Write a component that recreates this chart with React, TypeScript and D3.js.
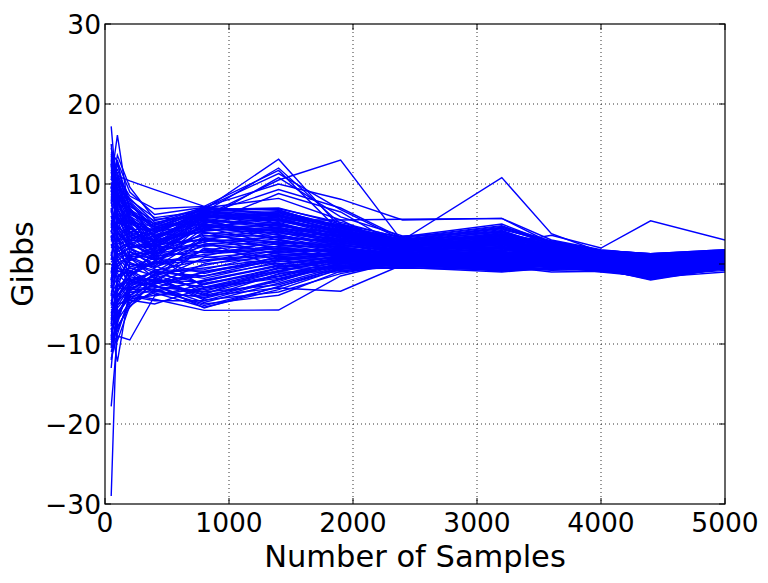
import React from "react";
import * as d3 from "d3";

// sample sizes shared by every run
const samples = [50, 100, 200, 400, 800, 1400, 1900, 2400, 3200, 3600, 4000, 4400, 5000];

// one row per run, Gibbs estimate at each sample size
const runs: number[][] = [
  [17.2, 8.0, 3.5, 2.0, 6.8, 13.1, 4.5, 2.0, 1.5, 1.2, 0.8, 0.5, 0.9],
  [10.5, 16.1, 6.0, 1.0, 6.5, 12.0, 5.0, 2.5, 2.0, 1.5, 1.0, 0.6, 1.2],
  [14.5, 11.0, 8.5, 6.9, 7.2, 11.7, 4.0, 2.2, 3.0, 1.8, 1.2, 0.4, 0.8],
  [9.0, 12.5, 7.0, 3.5, 7.0, 11.3, 6.8, 3.0, 4.5, 2.5, 1.5, 0.8, 1.4],
  [6.5, 8.0, 4.5, 2.0, 5.5, 10.8, 5.9, 3.5, 4.0, 2.0, 1.0, 0.2, 0.6],
  [12.0, 11.0, 5.5, 4.0, 6.0, 10.5, 13.0, 2.8, 2.0, 1.0, 0.5, -0.2, 0.3],
  [3.0, 5.0, 6.5, 5.0, 7.1, 10.0, 8.1, 5.5, 5.7, 3.0, 1.8, 1.2, 1.6],
  [13.0, 9.0, 2.0, 3.0, 6.2, 9.3, 7.0, 3.2, 2.5, 1.6, 1.1, 0.9, 1.3],
  [7.5, 10.5, 5.0, 1.5, 5.0, 8.8, 6.5, 2.0, 3.5, 2.2, 1.3, 0.7, 1.0],
  [15.0, 6.0, 3.0, 4.5, 7.0, 8.2, 5.5, 1.8, 2.8, 1.4, 0.9, 0.3, 0.7],
  [8.0, 11.0, 10.4, 9.3, 7.2, 6.0, 4.8, 2.4, 2.6, 1.7, 1.0, 0.6, 1.1],
  [4.0, 7.0, 3.0, 2.5, 4.5, 6.0, 4.2, 3.0, 10.8, 3.8, 1.5, 0.9, 1.2],
  [-2.0, 3.0, 2.0, 0.5, 3.0, 4.5, 3.5, 2.0, 2.5, 3.6, 2.0, 5.4, 3.0],
  [5.0, 4.0, 1.0, 2.0, 5.8, 5.5, 5.5, 5.6, 5.7, 2.6, 1.7, 1.3, 1.8],
  [11.5, 7.0, 4.0, 3.0, 6.8, 7.0, 5.0, 3.3, 4.8, 2.4, 1.4, 1.0, 1.5],
  [10.0, 9.5, 6.0, 2.5, 6.5, 6.5, 4.6, 2.6, 4.2, 2.0, 1.2, 0.7, 1.2],
  [8.5, 6.5, 3.5, 1.0, 6.0, 6.2, 4.0, 2.3, 3.8, 1.9, 1.0, 0.5, 1.0],
  [6.0, 4.5, 2.5, 3.5, 5.8, 5.8, 3.8, 2.0, 3.2, 1.7, 0.8, 0.3, 0.8],
  [4.5, 9.0, 5.5, 2.0, 5.2, 5.5, 3.5, 1.8, 2.9, 1.5, 0.7, 0.1, 0.6],
  [2.0, 3.0, 4.0, 1.5, 4.8, 5.2, 3.2, 1.5, 2.6, 1.3, 0.6, 0.0, 0.5],
  [0.5, 5.5, 1.5, 0.0, 4.5, 4.9, 3.0, 1.3, 2.2, 1.1, 0.4, -0.2, 0.4],
  [-1.0, 2.5, 3.0, 2.8, 4.2, 4.6, 2.8, 1.1, 2.0, 1.0, 0.3, -0.3, 0.3],
  [7.0, 1.0, -1.0, 1.2, 3.8, 4.3, 2.5, 1.0, 1.8, 0.9, 0.2, -0.4, 0.2],
  [-3.0, 4.0, 2.0, -0.5, 3.5, 4.0, 2.2, 0.9, 1.6, 0.8, 0.1, -0.5, 0.1],
  [1.5, -2.0, 0.5, 1.8, 3.2, 3.7, 2.0, 0.8, 1.4, 0.7, 0.0, -0.6, 0.0],
  [-5.0, 0.0, 1.0, 0.8, 2.8, 3.4, 1.8, 0.7, 1.2, 0.6, -0.1, -0.7, -0.1],
  [5.5, 3.5, -2.0, -1.0, 2.5, 3.1, 1.6, 0.6, 1.0, 0.5, -0.2, -0.8, -0.2],
  [-7.0, -3.0, 1.5, 0.5, 2.2, 2.8, 1.4, 0.5, 0.8, 0.4, -0.3, -0.9, -0.3],
  [3.5, -1.0, -0.5, -1.5, 1.8, 2.5, 1.2, 0.4, 0.6, 0.3, -0.4, -1.0, 0.0],
  [-2.5, 1.5, 2.5, 1.0, 1.5, 2.2, 1.0, 0.3, 0.4, 0.2, -0.5, -1.1, -0.2],
  [-9.0, -4.0, -1.5, 0.2, 1.2, 1.9, 0.8, 0.2, 0.2, 0.1, -0.6, -1.2, -0.3],
  [2.5, 0.5, -3.0, -2.0, 0.8, 1.6, 0.6, 0.1, 0.0, 0.0, -0.7, -1.3, -0.4],
  [-6.0, -5.0, 0.0, -0.8, 0.5, 1.3, 0.4, 0.0, -0.2, -0.1, -0.8, -1.4, -0.5],
  [-12.0, -7.0, -2.5, -2.5, 0.0, 1.0, 0.2, -0.1, -0.4, -0.2, -0.9, -1.5, -0.6],
  [-4.5, -6.0, -4.0, -1.2, -0.5, 0.7, 0.0, -0.2, -0.6, -0.3, -1.0, -1.6, -0.4],
  [-8.0, -12.2, -3.0, -3.0, -1.0, 0.4, -0.2, -0.3, -0.8, -0.4, -0.8, -1.8, -0.3],
  [-10.0, -8.0, -5.0, -2.2, -1.5, 0.1, -0.4, -0.4, -1.0, -0.5, -0.6, -2.0, -0.5],
  [-13.0, -4.5, -3.5, -3.5, -2.0, -0.2, -0.6, -0.5, -0.7, -0.6, -0.5, -1.7, -1.0],
  [-17.8, -9.0, -9.5, -4.0, -2.5, -0.5, -0.8, -0.3, -0.5, -0.8, -0.7, -1.5, -0.8],
  [-29.0, -5.0, -4.5, -5.0, -3.0, -1.0, -1.0, -0.2, -0.3, -1.0, -0.9, -1.3, -0.6],
  [-11.0, -7.5, -2.0, -2.8, -3.5, -2.6, -0.5, 0.0, -0.1, -0.7, -0.4, -1.2, -0.4],
  [-6.5, -3.5, -1.0, -3.8, -4.0, -3.0, -3.4, -0.1, 0.1, -0.4, -0.3, -1.1, -0.2],
  [-3.5, -2.5, -4.5, -1.8, -4.5, -3.5, -1.2, 0.2, 0.3, -0.2, -0.2, -0.9, 0.0],
  [-8.5, -6.5, -3.2, -3.2, -5.0, -3.9, -0.9, 0.1, -0.2, -0.3, -0.5, -1.0, 0.1],
  [-5.5, -4.0, -2.2, -2.6, -5.5, -2.8, -0.7, 0.3, 0.5, 0.0, -0.3, -0.8, 0.2],
  [-10.5, -2.0, -3.8, -4.4, -5.8, -5.75, -1.5, 0.4, 0.7, 0.1, -0.1, -0.6, 0.3],
  [13.5, 10.0, 7.5, 4.2, 6.9, 6.8, 4.4, 3.4, 5.0, 2.6, 1.5, 1.1, 1.7],
  [9.5, 13.0, 5.0, 3.8, 6.6, 6.0, 4.9, 2.9, 4.0, 2.1, 1.3, 0.8, 1.3],
  [4.0, 7.5, 7.0, 3.2, 6.3, 5.6, 3.9, 2.7, 3.5, 1.9, 1.1, 0.6, 1.1],
  [1.0, 6.0, 3.8, 2.2, 6.1, 5.0, 3.3, 2.1, 3.0, 1.6, 0.9, 0.4, 0.9],
  [-2.0, 1.8, 2.8, 0.6, 5.6, 4.4, 2.7, 1.7, 2.4, 1.2, 0.5, -0.1, 0.6],
  [6.0, 3.2, 0.0, -0.3, 5.3, 3.6, 2.4, 1.4, 1.9, 1.0, 0.3, -0.3, 0.4],
  [-4.0, 0.8, 1.2, 1.4, 4.9, 3.0, 2.1, 1.2, 1.5, 0.8, 0.2, -0.4, 0.5],
  [12.5, 4.2, 2.2, 2.6, 4.6, 2.4, 1.9, 1.0, 1.1, 0.6, 0.1, -0.5, 0.2],
  [-1.5, -0.5, -1.2, 0.3, 4.0, 1.8, 1.5, 0.9, 0.7, 0.4, 0.0, -0.7, 0.1],
  [8.0, 2.2, 0.8, -1.8, 3.3, 1.2, 1.1, 0.6, 0.3, 0.2, -0.2, -0.9, 0.0],
  [-7.5, -1.5, -0.8, -2.4, 2.0, 0.6, 0.7, 0.5, -0.1, 0.1, -0.4, -1.1, 0.2],
  [3.8, 6.8, 4.8, 1.6, 2.7, -0.3, 0.3, 0.3, -0.5, -0.1, -0.6, -1.4, -0.1],
  [0.0, -1.2, -2.8, -1.4, -3.2, -1.6, 0.1, 0.2, -0.8, -0.6, -0.8, -1.6, -0.3],
  [-9.5, -3.2, -1.8, -3.4, -4.2, -1.2, -0.3, 0.0, -0.9, -0.5, -0.7, -1.9, -0.5],
  [11.0, 8.5, 6.2, 4.8, 6.9, 6.3, 4.7, 2.9, 4.3, 2.8, 1.7, 1.3, 1.7],
  [9.8, 7.2, 5.1, 4.1, 6.4, 5.9, 4.2, 2.5, 3.9, 2.6, 1.6, 1.0, 1.5],
  [-7.2, -5.5, -3.6, -2.7, -4.8, -2.4, -0.3, 0.2, -0.4, 0.2, -0.3, -1.6, -0.4],
  [10.6, 9.2, 4.4, 3.3, 5.9, 6.1, 4.5, 2.8, 4.1, 2.3, 1.4, 0.9, 1.6],
  [-5.8, -4.6, -2.4, -1.6, -4.3, -1.9, 0.0, 0.4, -0.2, 0.3, -0.2, -1.4, -0.2],
  [8.8, 5.7, 3.1, 3.9, 6.7, 5.3, 4.1, 2.7, 3.4, 2.4, 1.5, 0.7, 1.4],
  [-3.0, -1.8, 0.7, -0.6, -3.7, -1.3, 0.3, 0.6, 0.1, 0.5, -0.1, -1.2, 0.0],
  [7.6, 8.9, 6.8, 2.7, 5.4, 4.8, 3.7, 2.4, 3.1, 2.2, 1.2, 0.6, 1.2],
  [-1.2, 3.8, 2.6, 1.1, -2.9, -0.8, 0.5, 0.8, 0.4, 0.7, 0.1, -1.0, 0.3],
  [5.2, 6.3, 4.3, 4.4, 6.0, 6.4, 4.3, 2.6, 3.7, 2.7, 1.6, 1.1, 1.6],
  [-8.2, -6.2, -4.2, -3.1, -5.2, -2.9, -0.4, 0.1, -0.6, 0.0, -0.4, -1.7, -0.5],
  [12.2, 9.9, 6.6, 4.6, 6.5, 5.7, 3.6, 2.3, 2.8, 2.0, 1.3, 0.5, 1.0],
  [2.8, 4.7, 1.8, 0.9, 5.0, 4.1, 3.4, 2.2, 2.7, 1.8, 1.0, 0.3, 0.9],
  [-4.6, -2.8, -1.6, -2.1, -2.2, -0.1, 0.9, 1.0, 0.6, 0.9, 0.3, -0.8, 0.4],
  [6.8, 2.9, 3.4, 3.0, 4.4, 3.9, 3.1, 2.0, 2.3, 1.6, 0.8, 0.1, 0.7],
  [-6.8, -3.8, -2.6, -0.9, -1.8, 0.3, 1.2, 1.2, 0.9, 1.1, 0.4, -0.6, 0.5],
  [4.8, 7.9, 5.8, 3.6, 3.9, 3.3, 2.9, 1.9, 2.1, 1.5, 0.7, -0.1, 0.6],
  [1.2, -0.8, -1.4, 0.4, -1.2, 0.9, 1.5, 1.4, 1.3, 1.3, 0.5, -0.4, 0.7],
  [10.2, 6.1, 2.4, 1.9, 3.6, 2.7, 2.6, 1.7, 1.7, 1.4, 0.6, -0.2, 0.5],
  [-2.2, 2.4, 0.2, -1.1, -0.7, 1.5, 1.7, 1.5, 1.5, 1.2, 0.7, -0.3, 0.8],
  [3.6, 0.9, 2.1, 2.4, 3.0, 2.1, 2.3, 1.6, 2.5, 1.9, 1.1, 0.2, 1.0],
  [-9.2, -5.2, -3.0, -2.3, -3.9, -2.2, 0.2, 0.5, 0.0, 0.4, -0.1, -1.5, -0.3],
  [8.2, 10.8, 7.8, 4.9, 6.8, 5.1, 3.0, 1.6, 3.3, 2.1, 1.3, 0.4, 1.1],
  [0.2, 1.4, -0.3, 0.1, 1.0, 2.9, 2.0, 1.3, 2.0, 1.7, 0.9, -0.1, 0.9],
  [5.8, 4.9, 2.9, 1.3, 2.3, 3.5, 2.6, 1.8, 2.8, 2.0, 1.1, 0.5, 1.3],
  [-5.2, -2.2, -0.4, 0.7, 0.2, 2.3, 2.2, 1.7, 1.0, 1.0, 0.5, -0.5, 0.6],
  [11.8, 7.6, 5.3, 3.4, 5.7, 4.7, 3.9, 2.6, 3.6, 2.5, 1.4, 0.8, 1.4],
  [-0.6, 0.4, 1.6, -0.2, -2.6, -0.6, 0.8, 0.9, 0.5, 0.8, 0.2, -0.9, 0.2],
  [7.2, 8.4, 3.9, 2.9, 4.1, 5.0, 3.3, 2.1, 3.0, 2.3, 1.3, 0.6, 1.2],
  [-3.8, -0.2, -2.2, -1.0, -1.5, 0.6, 1.4, 1.1, 0.8, 0.6, 0.0, -1.0, 0.1],
  [9.2, 5.2, 4.6, 2.1, 4.3, 4.4, 3.6, 2.5, 3.2, 2.0, 1.0, 0.3, 1.0],
  [2.2, 3.6, 0.4, 1.7, 2.4, 1.7, 1.9, 1.2, 1.2, 1.1, 0.4, -0.6, 0.5],
  [-6.2, -4.2, -2.0, -1.9, -2.9, -1.5, 0.4, 0.7, 0.2, 0.5, -0.2, -1.3, -0.1],
  [6.4, 9.6, 6.0, 4.0, 5.1, 6.6, 4.8, 3.1, 4.4, 2.8, 1.7, 1.2, 1.7],
  [-1.8, 1.2, 2.0, 2.3, 1.4, 2.0, 1.6, 1.3, 1.9, 1.5, 0.8, 0.0, 0.8],
  [4.2, 2.0, -0.6, 0.0, 0.4, 1.1, 1.3, 1.0, 0.9, 0.9, 0.3, -0.7, 0.4],
  [13.8, 8.8, 6.4, 4.3, 6.2, 5.4, 4.3, 2.8, 3.8, 2.4, 1.5, 0.9, 1.5],
  [-4.2, -3.4, -0.9, -2.9, -3.4, -1.0, 0.6, 0.8, 0.3, 0.6, -0.1, -1.1, 0.0],
  [3.2, 5.9, 4.1, 3.7, 4.7, 4.2, 2.9, 1.9, 2.6, 1.8, 0.9, 0.2, 0.9],
  [0.8, -0.3, 0.9, -0.4, 1.7, 1.4, 1.2, 0.9, 1.1, 1.2, 0.6, -0.4, 0.6],
  [9.6, 4.6, 3.6, 3.1, 5.6, 3.2, 2.8, 2.2, 2.9, 1.9, 1.0, 0.4, 1.0],
  [-7.8, -2.6, -3.3, -1.3, -0.2, 1.8, 1.8, 1.4, 1.4, 1.4, 0.6, -0.2, 0.7],
  [5.0, 7.4, 5.6, 2.4, 3.1, 2.6, 2.4, 1.6, 2.2, 1.6, 0.8, 0.0, 0.8],
  [-2.8, 0.6, -1.6, 1.5, 0.9, 0.0, 1.0, 1.0, 0.7, 1.0, 0.4, -0.5, 0.4],
  [12.8, 10.4, 7.2, 5.4, 7.0, 6.7, 4.6, 3.0, 4.6, 2.7, 1.6, 1.2, 1.6],
  [-9.8, -7.0, -4.8, -3.6, -5.4, -3.2, -0.6, 0.0, -0.7, -0.2, -0.5, -1.8, -0.6],
  [10.8, 11.8, 8.0, 5.8, 6.6, 6.9, 5.2, 3.2, 4.7, 2.9, 1.7, 1.3, 1.8],
  [-11.8, -8.8, -4.0, -4.6, -4.6, -2.0, -0.2, 0.3, -0.3, 0.1, -0.3, -1.5, -0.4],
  [14.0, 12.8, 9.0, 6.2, 7.1, 6.2, 4.0, 2.4, 3.6, 2.2, 1.2, 0.6, 1.2],
  [-6.0, -7.8, -5.4, -2.0, -3.8, -0.4, 0.5, 0.6, 0.2, 0.5, 0.0, -1.2, 0.1],
  [9.4, 13.6, 9.6, 5.6, 5.9, 5.6, 4.1, 2.6, 3.4, 2.4, 1.4, 0.8, 1.3],
  [-10.2, -6.8, -3.4, -1.2, -2.4, -0.9, 0.7, 0.8, 0.4, 0.7, 0.2, -1.0, 0.2],
  [13.2, 9.4, 8.2, 5.2, 6.3, 4.5, 3.5, 2.3, 2.9, 2.1, 1.1, 0.4, 1.1],
  [-7.4, -8.4, -4.4, -3.9, -3.0, -1.8, 0.0, 0.4, -0.1, 0.3, -0.2, -1.4, -0.2],
  [11.4, 11.4, 6.8, 5.0, 4.9, 3.8, 3.2, 2.0, 2.4, 1.7, 0.9, 0.2, 0.9],
  [-2.6, -4.8, -2.9, -0.7, -0.9, 0.5, 1.3, 1.1, 0.8, 0.9, 0.3, -0.7, 0.4],
  [8.6, 7.8, 7.6, 4.5, 5.3, 4.0, 2.7, 1.8, 2.0, 1.6, 0.8, 0.1, 0.8],
  [-4.8, -6.4, -3.9, -2.5, -1.0, 0.8, 1.1, 1.2, 1.0, 1.1, 0.5, -0.6, 0.6],
  [12.6, 5.4, 5.2, 4.7, 5.5, 4.9, 3.8, 2.4, 3.3, 2.2, 1.2, 0.6, 1.2],
  [-8.8, -9.6, -5.2, -3.3, -2.1, -0.3, 0.6, 0.7, 0.3, 0.6, 0.1, -0.9, 0.2],
];

const xTicks = [0, 1000, 2000, 3000, 4000, 5000];
const yTicks = [-30, -20, -10, 0, 10, 20, 30];

const W = 768;
const H = 583;
const margin = { top: 24, right: 43, bottom: 79, left: 105 };
const font = "'DejaVu Sans', sans-serif";

const fmt = (v: number) => (v < 0 ? "\u2212" + Math.abs(v) : String(v));

const App = () => {
  const x = d3.scaleLinear().domain([0, 5000]).range([margin.left, W - margin.right]);
  const y = d3.scaleLinear().domain([-30, 30]).range([H - margin.bottom, margin.top]);

  const line = d3
    .line<number>()
    .x((_d, i) => x(samples[i]))
    .y((d) => y(d));

  const x0 = x(0), x1 = x(5000), y0 = y(-30), y1 = y(30);
  const tickLen = 6;

  return (
    <svg width={W} height={H} style={{ position: "absolute", left: 0, top: 0, background: "#fff" }}>
      <rect x={0} y={0} width={W} height={H} fill="#fff" />

      {/* grid */}
      {xTicks.slice(1, -1).map((t) => (
        <line key={"gx" + t} x1={x(t)} x2={x(t)} y1={y1} y2={y0}
          stroke="#000" strokeWidth={0.8} strokeDasharray="1,3" />
      ))}
      {yTicks.slice(1, -1).map((t) => (
        <line key={"gy" + t} x1={x0} x2={x1} y1={y(t)} y2={y(t)}
          stroke="#000" strokeWidth={0.8} strokeDasharray="1,3" />
      ))}

      {/* runs */}
      <defs>
        <clipPath id="plotclip">
          <rect x={x0} y={y1} width={x1 - x0} height={y0 - y1} />
        </clipPath>
      </defs>
      <g clipPath="url(#plotclip)">
        {runs.map((r, i) => (
          <path key={i} d={line(r) || ""} fill="none" stroke="#0000ff" strokeWidth={1.4} />
        ))}
      </g>

      {/* ticks, inward on all sides */}
      {xTicks.map((t) => (
        <g key={"tx" + t}>
          <line x1={x(t)} x2={x(t)} y1={y0} y2={y0 - tickLen} stroke="#000" />
          <line x1={x(t)} x2={x(t)} y1={y1} y2={y1 + tickLen} stroke="#000" />
          <text x={x(t)} y={532} textAnchor="middle" fontFamily={font} fontSize={26.5}>
            {fmt(t)}
          </text>
        </g>
      ))}
      {yTicks.map((t) => (
        <g key={"ty" + t}>
          <line x1={x0} x2={x0 + tickLen} y1={y(t)} y2={y(t)} stroke="#000" />
          <line x1={x1} x2={x1 - tickLen} y1={y(t)} y2={y(t)} stroke="#000" />
          <text x={101} y={y(t) + 9.6} textAnchor="end" fontFamily={font} fontSize={26.5}>
            {fmt(t)}
          </text>
        </g>
      ))}

      {/* frame */}
      <rect x={x0} y={y1} width={x1 - x0} height={y0 - y1} fill="none" stroke="#000" strokeWidth={1.2} />

      <text x={(x0 + x1) / 2} y={567} textAnchor="middle" fontFamily={font} fontSize={30.5}>
        Number of Samples
      </text>
      <text transform={`translate(33, ${(y0 + y1) / 2}) rotate(-90)`} textAnchor="middle"
        fontFamily={font} fontSize={30}>
        Gibbs
      </text>
    </svg>
  );
};

export default App;
